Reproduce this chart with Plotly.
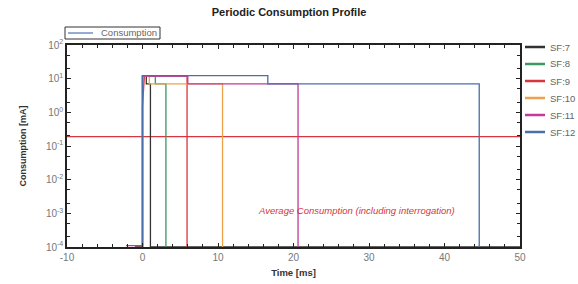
import plotly.graph_objects as go

OFF = 1e-4
# Pulse profiles per spreading factor: time [ms] and current [mA]
sf7_t = [-1.0, 0.0, 0.0, 0.5, 0.5, 1.05, 1.05, 50]
sf7_i = [OFF, OFF, 12, 12, 7, 7, OFF, OFF]
sf8_t = [0.0, 0.0, 1.7, 1.7, 3.1, 3.1]
sf8_i = [OFF, 12, 12, 7, 7, OFF]
sf9_t = [0.0, 0.0, 0.25, 0.25, 5.9, 5.9]
sf9_i = [OFF, 1.5, 12, 12, 12, OFF]
sf10_t = [0.0, 0.0, 0.9, 0.9, 10.6, 10.6]
sf10_i = [OFF, 12, 12, 7, 7, OFF]
sf11_t = [-2.2, 0.0, 0.0, 6.0, 6.0, 20.6, 20.6]
sf11_i = [1.1e-4, 1.1e-4, 12, 12, 7, 7, OFF]
sf12_t = [0.0, 0.0, 16.6, 16.6, 44.6, 44.6]
sf12_i = [OFF, 12.3, 12.3, 7, 7, OFF]

avg_t = [-10, 50]
avg_i = [0.19, 0.19]

series_names = ["SF:7", "SF:8", "SF:9", "SF:10", "SF:11", "SF:12"]
series_t = [sf7_t, sf8_t, sf9_t, sf10_t, sf11_t, sf12_t]
series_i = [sf7_i, sf8_i, sf9_i, sf10_i, sf11_i, sf12_i]
colors = ["#333333", "#3a9a62", "#d8353c", "#eea24a", "#c4399a", "#4a6fa8"]

y_tickvals = [1e-4, 1e-3, 1e-2, 1e-1, 1e0, 1e1, 1e2]
y_ticktext = ["10<sup>-4</sup>", "10<sup>-3</sup>", "10<sup>-2</sup>", "10<sup>-1</sup>",
              "10<sup>0</sup>", "10<sup>1</sup>", "10<sup>2</sup>"]
x_tickvals = [-10, 0, 10, 20, 30, 40, 50]
x_ticktext = ["-10", "0", "10", "20", "30", "40", "50"]

W, H = 578, 284
ML, MR, MT, MB = 67, 58, 45, 37
PW, PH = W - ML - MR, H - MT - MB


def px_x(p):  # pixel -> paper x
    return (p - ML) / PW


def px_y(p):  # pixel -> paper y
    return (H - MB - p) / PH


fig = go.Figure()

fig.add_trace(go.Scatter(x=avg_t, y=avg_i, mode="lines", name="Average",
                         line=dict(color="#d8353c", width=1.2), showlegend=False))

for name, t, i, c in zip(series_names, series_t, series_i, colors):
    fig.add_trace(go.Scatter(x=t, y=i, mode="lines", name=name,
                             line=dict(color=c, width=1.3), showlegend=False))

fig.add_annotation(x=28.3, y=-2.93, text="<i>Average Consumption (including interrogation)</i>",
                   showarrow=False, font=dict(color="#d8353c", size=9.5, family="Arial"))

# Right-hand key for the SF series
for k, (name, c) in enumerate(zip(series_names, colors)):
    py = 47 + k * 17
    fig.add_shape(type="line", xref="paper", yref="paper",
                  x0=px_x(525), x1=px_x(545), y0=px_y(py), y1=px_y(py),
                  line=dict(color=c, width=2.5))
    fig.add_annotation(xref="paper", yref="paper", x=px_x(548), y=px_y(py),
                       xanchor="left", yanchor="middle", text=name, showarrow=False,
                       font=dict(size=9.5, color="#666", family="Arial"))

# "Consumption" key box at top-left
fig.add_shape(type="rect", xref="paper", yref="paper",
              x0=px_x(65), x1=px_x(160), y0=px_y(39), y1=px_y(27),
              line=dict(color="#333", width=1), fillcolor="white")
fig.add_shape(type="line", xref="paper", yref="paper",
              x0=px_x(68), x1=px_x(93), y0=px_y(33), y1=px_y(33),
              line=dict(color="#5a7fb8", width=1.3))
fig.add_annotation(xref="paper", yref="paper", x=px_x(99), y=px_y(33),
                   xanchor="left", yanchor="middle", text="Consumption", showarrow=False,
                   font=dict(size=9.5, color="#666", family="Arial"))

axis_common = dict(showline=True, linecolor="#222", linewidth=1.5, mirror="ticks",
                   ticks="inside", ticklen=4, tickcolor="#222", showgrid=False, zeroline=False,
                   tickfont=dict(size=10, color="#777", family="Arial"))

fig.update_xaxes(range=[-10, 50], tickvals=x_tickvals, ticktext=x_ticktext,
                 minor=dict(dtick=2, ticks="inside", ticklen=3, tickcolor="#222"),
                 title=dict(text="<b>Time [ms]</b>", font=dict(size=9.5, color="#333", family="Arial"),
                            standoff=8),
                 **axis_common)
fig.update_yaxes(type="log", range=[-4, 2], tickvals=y_tickvals, ticktext=y_ticktext,
                 minor=dict(ticks="inside", ticklen=3, tickcolor="#222", showgrid=False),
                 title=dict(text="<b>Consumption [mA]</b>", font=dict(size=9, color="#333", family="Arial"),
                            standoff=18),
                 **axis_common)

fig.update_layout(
    width=W, height=H,
    margin=dict(l=ML, r=MR, t=MT, b=MB, autoexpand=False),
    paper_bgcolor="white", plot_bgcolor="white",
    title=dict(text="<b>Periodic Consumption Profile</b>", x=0.5, xanchor="center",
               y=0.97, yanchor="top", font=dict(size=11, color="#222", family="Arial")),
    showlegend=False,
)

fig.write_html("out.html", config={"displayModeBar": False},
               post_script="document.body.style.margin='0px';")
